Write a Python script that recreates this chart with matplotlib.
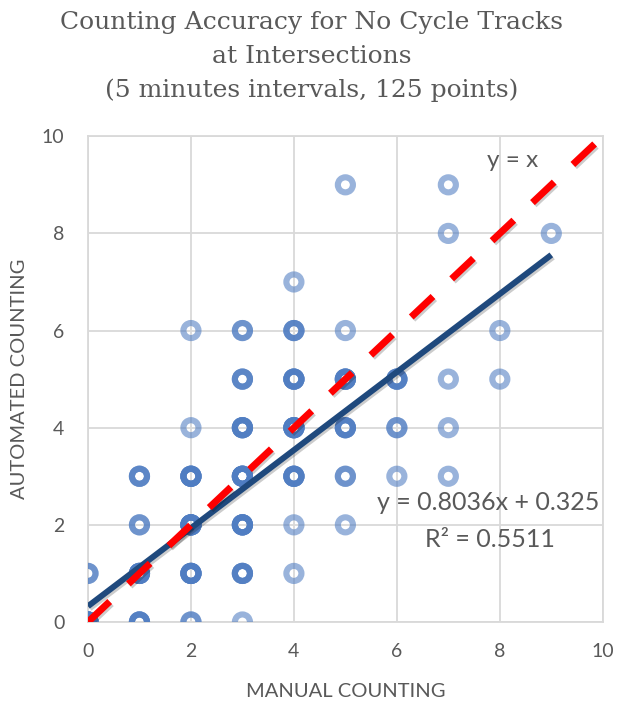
import numpy as np
import matplotlib
matplotlib.use('Agg')
import matplotlib.pyplot as plt
import matplotlib.patheffects as pe

# 手动计数 / 自动计数 的网格点，以及每个点上重叠的样本数（从图上估计）
manual = [0, 0,
          1, 1, 1, 1,
          2, 2, 2, 2, 2, 2,
          3, 3, 3, 3, 3, 3, 3,
          4, 4, 4, 4, 4, 4, 4,
          5, 5, 5, 5, 5, 5,
          6, 6, 6,
          7, 7, 7, 7, 7,
          8, 8,
          9]
automated = [0, 1,
             0, 1, 2, 3,
             0, 1, 2, 3, 4, 6,
             0, 1, 2, 3, 4, 5, 6,
             1, 2, 3, 4, 5, 6, 7,
             2, 3, 4, 5, 6, 9,
             3, 4, 5,
             3, 4, 5, 8, 9,
             5, 6,
             8]
counts = [7, 2,
          4, 6, 2, 3,
          2, 6, 7, 6, 1, 1,
          1, 4, 6, 7, 5, 3, 2,
          1, 1, 5, 6, 5, 3, 1,
          1, 2, 4, 5, 1, 1,
          1, 2, 4,
          1, 1, 1, 1, 1,
          1, 1,
          1]

# 趋势线参数（图中标注）
slope = 0.8036
intercept = 0.325
r2 = 0.5511

xs = np.repeat(manual, counts)
ys = np.repeat(automated, counts)

fig = plt.figure(figsize=(6.24, 7.06), dpi=100)
ax = fig.add_axes([0.141, 0.119, 0.825, 0.688])

gray = '#595959'
grid_c = '#d9d9d9'
font = 'Lato'

ax.scatter(xs, ys, s=118, facecolors='none', edgecolors='#4f7dc2',
           linewidths=4.4, alpha=0.58, zorder=3)

shadow = [pe.SimpleLineShadow(offset=(1.2, -1.5), alpha=0.2), pe.Normal()]
tx = np.array([0, max(manual)])
ax.plot(tx, slope * tx + intercept, color='#1f497d', lw=4.3, zorder=4,
        solid_capstyle='butt', path_effects=shadow)
ax.plot([0, 10], [0, 10], color='#ff0000', lw=5, dashes=(4.3, 3.7), zorder=5,
        path_effects=shadow)

ax.set_xlim(0, 10)
ax.set_ylim(0, 10)
ax.set_xticks(range(0, 11, 2))
ax.set_yticks(range(0, 11, 2))
ax.grid(True, color=grid_c, lw=1.3, zorder=0)
ax.set_axisbelow(True)
for s in ax.spines.values():
    s.set_color(grid_c)
    s.set_linewidth(1.3)
ax.tick_params(axis='x', length=0, labelsize=14, labelcolor=gray, pad=15)
ax.tick_params(axis='y', length=0, labelsize=14, labelcolor=gray, pad=17)
for lab in ax.get_xticklabels() + ax.get_yticklabels():
    lab.set_family(font)

ax.set_xlabel('MANUAL COUNTING', fontsize=14.5, color=gray, family=font, labelpad=17)
ax.set_ylabel('AUTOMATED COUNTING', fontsize=14.5, color=gray, family=font, labelpad=10)

ax.text(8.25, 9.5, 'y = x', fontsize=17.5, color=gray, family=font, ha='center', va='center')
ax.text(7.77, 2.45, f'y = {slope}x + {intercept}', fontsize=18, color=gray,
        family=font, ha='center', va='center')
ax.text(7.81, 1.69, f'R² = {r2}', fontsize=18, color=gray,
        family=font, ha='center', va='center')

title_lines = ['Counting Accuracy for No Cycle Tracks',
               'at Intersections',
               '(5 minutes intervals, 125 points)']
for line, yb in zip(title_lines, [0.9589, 0.9108, 0.8626]):
    fig.text(0.5, yb, line, ha='center', va='baseline', fontsize=18,
             color=gray, family='DejaVu Serif')

fig.savefig('out.png', dpi=100)
